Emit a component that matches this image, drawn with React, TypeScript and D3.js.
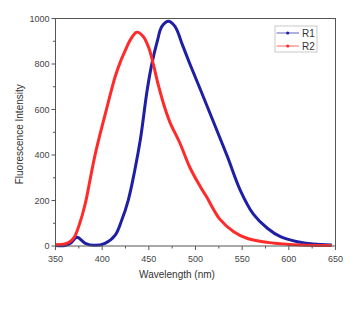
import * as d3 from "d3"

const R1_NM = [350, 360, 366, 373, 382, 391, 403, 414, 421, 428, 435, 441, 448, 453, 459, 464, 471, 478, 486, 494, 505, 518, 534, 548, 562, 577, 591, 609, 626, 646]
const R1_VAL = [2, 2, 12, 38, 12, 3, 12, 48, 114, 202, 334, 470, 679, 796, 899, 965, 988, 965, 884, 800, 690, 558, 395, 245, 140, 78, 41, 19, 9, 4]

const R2_NM = [350, 360, 365, 370, 376, 382, 387, 392, 398, 403, 408, 414, 420, 425, 430, 437, 444, 450, 455, 460, 466, 473, 483, 494, 505, 512, 526, 541, 555, 577, 601, 646]
const R2_VAL = [6, 9, 18, 38, 100, 188, 290, 393, 496, 575, 655, 745, 815, 862, 905, 940, 921, 870, 796, 710, 622, 540, 455, 345, 262, 215, 118, 63, 34, 16, 7, 2]

const X_TICKS = [350, 400, 450, 500, 550, 600, 650]
const Y_TICKS = [0, 200, 400, 600, 800, 1000]

const SERIES = [
  { name: "R1", nm: R1_NM, val: R1_VAL, color: "#1f1fa6" },
  { name: "R2", nm: R2_NM, val: R2_VAL, color: "#ff2a2a" },
]

const W = 357
const H = 321
const M = { left: 55.5, right: 21.5, top: 18.5, bottom: 75 }
const FONT = "Liberation Sans, Arial, sans-serif"
const AXIS = "#555"

export default function App() {
  const x = d3.scaleLinear().domain([350, 650]).range([M.left, W - M.right])
  const y = d3.scaleLinear().domain([0, 1000]).range([H - M.bottom, M.top])
  const line = d3
    .line<[number, number]>()
    .x((d) => x(d[0]))
    .y((d) => y(d[1]))
    .curve(d3.curveCatmullRom.alpha(0.5))

  const minorX = d3.range(375, 650, 50)
  const minorY = d3.range(100, 1000, 200)
  const bottom = y(0)
  const left = x(350)

  return (
    <svg width={W} height={H} style={{ position: "absolute", left: 0, top: 0, background: "#fff" }} fontFamily={FONT}>
      {SERIES.map((s) => (
        <path
          key={s.name}
          d={line(s.nm.map((n, i) => [n, s.val[i]] as [number, number])) ?? ""}
          fill="none"
          stroke={s.color}
          strokeWidth={3}
          strokeLinejoin="round"
        />
      ))}

      <rect x={left} y={y(1000)} width={x(650) - left} height={bottom - y(1000)} fill="none" stroke={AXIS} strokeWidth={1} />

      {X_TICKS.map((t) => (
        <g key={t}>
          <line x1={x(t)} x2={x(t)} y1={bottom} y2={bottom + 4} stroke={AXIS} />
          <text x={x(t)} y={bottom + 16} fontSize={9} fill="#444" textAnchor="middle">
            {t}
          </text>
        </g>
      ))}
      {minorX.map((t) => (
        <line key={t} x1={x(t)} x2={x(t)} y1={bottom} y2={bottom + 2.5} stroke={AXIS} />
      ))}

      {Y_TICKS.map((t) => (
        <g key={t}>
          <line x1={left - 4} x2={left} y1={y(t)} y2={y(t)} stroke={AXIS} />
          <text x={left - 6} y={y(t) + 3} fontSize={9} fill="#444" textAnchor="end">
            {t}
          </text>
        </g>
      ))}
      {minorY.map((t) => (
        <line key={t} x1={left - 2.5} x2={left} y1={y(t)} y2={y(t)} stroke={AXIS} />
      ))}

      <text x={177} y={278} fontSize={10} fill="#333" textAnchor="middle">
        Wavelength (nm)
      </text>
      <text
        transform={`translate(23, ${(y(0) + y(1000)) / 2 + 2}) rotate(-90)`}
        fontSize={10}
        fill="#333"
        textAnchor="middle"
      >
        Fluorescence Intensity
      </text>

      <g transform="translate(275, 26)">
        <rect x={0} y={0} width={42} height={26} fill="#fff" stroke="#bbb" strokeWidth={0.8} />
        {SERIES.map((s, i) => (
          <g key={s.name} transform={`translate(0, ${7 + i * 13})`}>
            <line x1={1.5} x2={24} y1={0} y2={0} stroke={s.color} strokeWidth={0.7} />
            <circle cx={12.7} cy={0} r={1.6} fill={s.color} />
            <text x={27} y={3.5} fontSize={10} fill="#333">
              {s.name}
            </text>
          </g>
        ))}
      </g>
    </svg>
  )
}
